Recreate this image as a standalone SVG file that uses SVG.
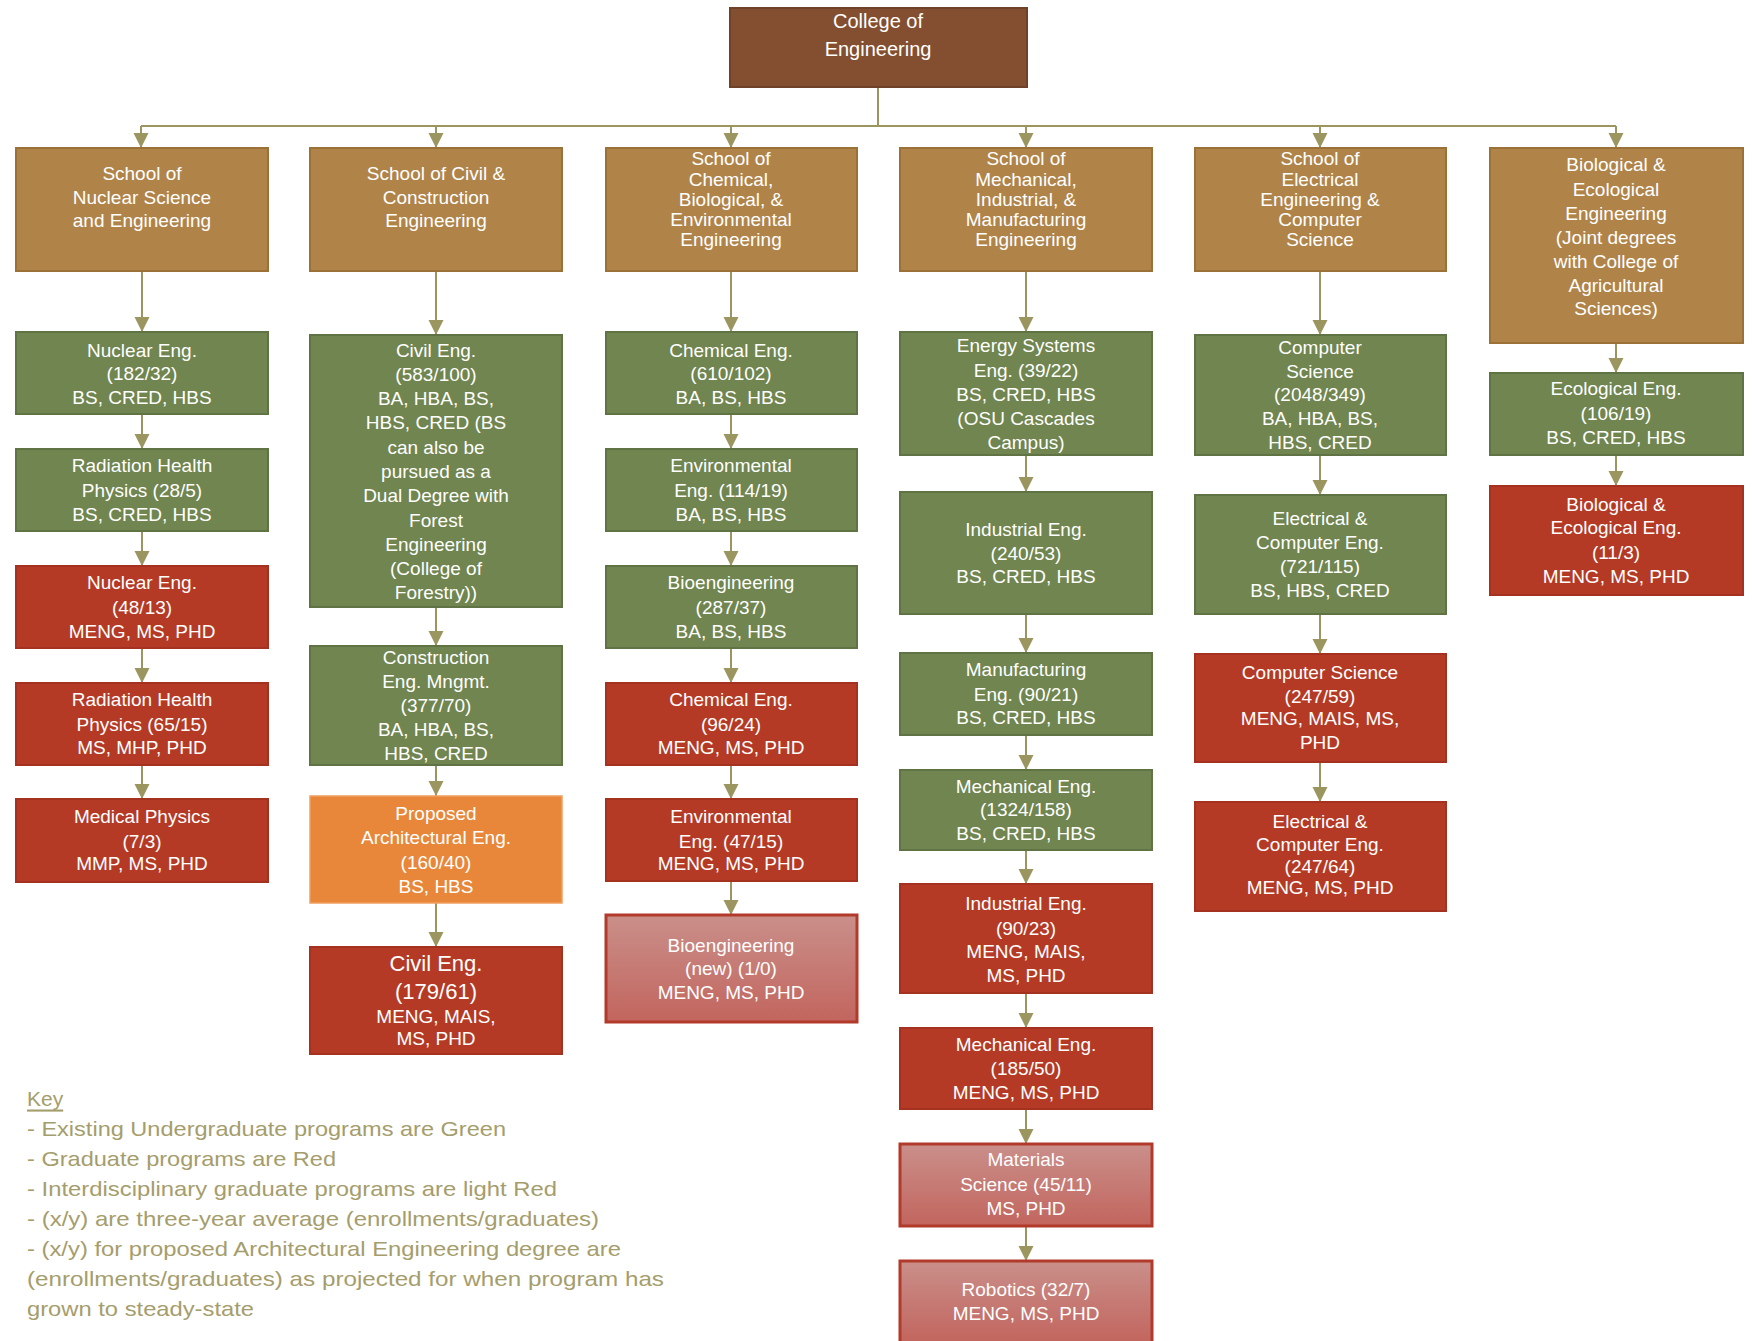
<svg xmlns="http://www.w3.org/2000/svg" width="1755" height="1341" viewBox="0 0 1755 1341">
<defs>
<linearGradient id="lr" x1="0" y1="0" x2="0" y2="1">
<stop offset="0" stop-color="#ca8f8a"/>
<stop offset="1" stop-color="#c2655e"/>
</linearGradient>
<marker id="ah" markerUnits="userSpaceOnUse" markerWidth="17" markerHeight="16" refX="15" refY="7.5" orient="auto">
<path d="M0,0 L15,7.5 L0,15 Z" fill="#9b9660"/>
</marker>
</defs>
<style>
.t{font-family:"Liberation Sans",Arial,sans-serif;font-size:19px;fill:#ffffff;text-anchor:middle;dominant-baseline:central}
.big{font-size:22px}
.ct{font-size:20px}
.col{fill:#834f30;stroke:#6e4128;stroke-width:2}
.sch{fill:#b08449;stroke:#9c7137;stroke-width:2}
.grn{fill:#70854f;stroke:#5f7345;stroke-width:2}
.red{fill:#b53a25;stroke:#a53120;stroke-width:2}
.lred{fill:url(#lr);stroke:#b13a2b;stroke-width:3}
.org{fill:#e8873a;stroke:#f0a060;stroke-width:1.5}
.c{fill:none;stroke:#9b9660;stroke-width:2}
.a{marker-end:url(#ah)}
.k{font-family:"Liberation Sans",Arial,sans-serif;font-size:21px;fill:#a59d6c;dominant-baseline:central}
</style>
<rect width="1755" height="1341" fill="#ffffff"/>

<g id="connectors">
<path class="c" d="M878,87 V126 M141,126 H1616"/>
<path class="c a" d="M141,126 V148"/>
<path class="c a" d="M436,126 V148"/>
<path class="c a" d="M731,126 V148"/>
<path class="c a" d="M1026,126 V148"/>
<path class="c a" d="M1320,126 V148"/>
<path class="c a" d="M1616,126 V148"/>
<path class="c a" d="M142,271 V332"/>
<path class="c a" d="M142,414 V449"/>
<path class="c a" d="M142,531 V566"/>
<path class="c a" d="M142,648 V683"/>
<path class="c a" d="M142,765 V799"/>
<path class="c a" d="M436,271 V335"/>
<path class="c a" d="M436,607 V646"/>
<path class="c a" d="M436,765 V796"/>
<path class="c a" d="M436,903 V947"/>
<path class="c a" d="M731,271 V332"/>
<path class="c a" d="M731,414 V449"/>
<path class="c a" d="M731,531 V566"/>
<path class="c a" d="M731,648 V683"/>
<path class="c a" d="M731,765 V799"/>
<path class="c a" d="M731,881 V915"/>
<path class="c a" d="M1026,271 V332"/>
<path class="c a" d="M1026,455 V492"/>
<path class="c a" d="M1026,614 V653"/>
<path class="c a" d="M1026,735 V770"/>
<path class="c a" d="M1026,850 V884"/>
<path class="c a" d="M1026,993 V1028"/>
<path class="c a" d="M1026,1109 V1144"/>
<path class="c a" d="M1026,1226 V1261"/>
<path class="c a" d="M1320,271 V335"/>
<path class="c a" d="M1320,455 V495"/>
<path class="c a" d="M1320,614 V654"/>
<path class="c a" d="M1320,762 V802"/>
<path class="c a" d="M1616,343 V373"/>
<path class="c a" d="M1616,455 V486"/>
</g>

<g id="college">
<rect class="col" x="730" y="8" width="297" height="79"/>
<text class="t ct" x="878" y="21">College of</text>
<text class="t ct" x="878" y="49">Engineering</text>
</g>

<g id="school-nuclear">
<rect class="sch" x="16" y="148" width="252" height="123"/>
<text class="t" x="142" y="173">School of</text>
<text class="t" x="142" y="197">Nuclear Science</text>
<text class="t" x="142" y="220">and Engineering</text>
</g>
<g id="school-civil">
<rect class="sch" x="310" y="148" width="252" height="123"/>
<text class="t" x="436" y="173">School of Civil &amp;</text>
<text class="t" x="436" y="197">Construction</text>
<text class="t" x="436" y="220">Engineering</text>
</g>
<g id="school-chem">
<rect class="sch" x="606" y="148" width="251" height="123"/>
<text class="t" x="731" y="158">School of</text>
<text class="t" x="731" y="179">Chemical,</text>
<text class="t" x="731" y="199">Biological, &amp;</text>
<text class="t" x="731" y="219">Environmental</text>
<text class="t" x="731" y="239">Engineering</text>
</g>
<g id="school-mech">
<rect class="sch" x="900" y="148" width="252" height="123"/>
<text class="t" x="1026" y="158">School of</text>
<text class="t" x="1026" y="179">Mechanical,</text>
<text class="t" x="1026" y="199">Industrial, &amp;</text>
<text class="t" x="1026" y="219">Manufacturing</text>
<text class="t" x="1026" y="239">Engineering</text>
</g>
<g id="school-eecs">
<rect class="sch" x="1195" y="148" width="251" height="123"/>
<text class="t" x="1320" y="158">School of</text>
<text class="t" x="1320" y="179">Electrical</text>
<text class="t" x="1320" y="199">Engineering &amp;</text>
<text class="t" x="1320" y="219">Computer</text>
<text class="t" x="1320" y="239">Science</text>
</g>
<g id="school-bee">
<rect class="sch" x="1490" y="148" width="253" height="195"/>
<text class="t" x="1616" y="164">Biological &amp;</text>
<text class="t" x="1616" y="189">Ecological</text>
<text class="t" x="1616" y="213">Engineering</text>
<text class="t" x="1616" y="237">(Joint degrees</text>
<text class="t" x="1616" y="261">with College of</text>
<text class="t" x="1616" y="285">Agricultural</text>
<text class="t" x="1616" y="308">Sciences)</text>
</g>

<g id="nuclear-ug">
<rect class="grn" x="16" y="332" width="252" height="82"/>
<text class="t" x="142" y="350">Nuclear Eng.</text>
<text class="t" x="142" y="373">(182/32)</text>
<text class="t" x="142" y="397">BS, CRED, HBS</text>
</g>
<g id="radhealth-ug">
<rect class="grn" x="16" y="449" width="252" height="82"/>
<text class="t" x="142" y="465">Radiation Health</text>
<text class="t" x="142" y="490">Physics (28/5)</text>
<text class="t" x="142" y="514">BS, CRED, HBS</text>
</g>
<g id="nuclear-grad">
<rect class="red" x="16" y="566" width="252" height="82"/>
<text class="t" x="142" y="582">Nuclear Eng.</text>
<text class="t" x="142" y="607">(48/13)</text>
<text class="t" x="142" y="631">MENG, MS, PHD</text>
</g>
<g id="radhealth-grad">
<rect class="red" x="16" y="683" width="252" height="82"/>
<text class="t" x="142" y="699">Radiation Health</text>
<text class="t" x="142" y="724">Physics (65/15)</text>
<text class="t" x="142" y="747">MS, MHP, PHD</text>
</g>
<g id="medphys-grad">
<rect class="red" x="16" y="799" width="252" height="83"/>
<text class="t" x="142" y="816">Medical Physics</text>
<text class="t" x="142" y="841">(7/3)</text>
<text class="t" x="142" y="863">MMP, MS, PHD</text>
</g>

<g id="civil-ug">
<rect class="grn" x="310" y="335" width="252" height="272"/>
<text class="t" x="436" y="350">Civil Eng.</text>
<text class="t" x="436" y="374">(583/100)</text>
<text class="t" x="436" y="398">BA, HBA, BS,</text>
<text class="t" x="436" y="422">HBS, CRED (BS</text>
<text class="t" x="436" y="447">can also be</text>
<text class="t" x="436" y="471">pursued as a</text>
<text class="t" x="436" y="495">Dual Degree with</text>
<text class="t" x="436" y="520">Forest</text>
<text class="t" x="436" y="544">Engineering</text>
<text class="t" x="436" y="568">(College of</text>
<text class="t" x="436" y="592">Forestry))</text>
</g>
<g id="construction-ug">
<rect class="grn" x="310" y="646" width="252" height="119"/>
<text class="t" x="436" y="657">Construction</text>
<text class="t" x="436" y="681">Eng. Mngmt.</text>
<text class="t" x="436" y="705">(377/70)</text>
<text class="t" x="436" y="729">BA, HBA, BS,</text>
<text class="t" x="436" y="753">HBS, CRED</text>
</g>
<g id="archeng-proposed">
<rect class="org" x="310" y="796" width="252" height="107"/>
<text class="t" x="436" y="813">Proposed</text>
<text class="t" x="436" y="837">Architectural Eng.</text>
<text class="t" x="436" y="862">(160/40)</text>
<text class="t" x="436" y="886">BS, HBS</text>
</g>
<g id="civil-grad">
<rect class="red" x="310" y="947" width="252" height="107"/>
<text class="t big" x="436" y="963">Civil Eng.</text>
<text class="t big" x="436" y="991">(179/61)</text>
<text class="t" x="436" y="1016">MENG, MAIS,</text>
<text class="t" x="436" y="1038">MS, PHD</text>
</g>

<g id="chem-ug">
<rect class="grn" x="606" y="332" width="251" height="82"/>
<text class="t" x="731" y="350">Chemical Eng.</text>
<text class="t" x="731" y="373">(610/102)</text>
<text class="t" x="731" y="397">BA, BS, HBS</text>
</g>
<g id="env-ug">
<rect class="grn" x="606" y="449" width="251" height="82"/>
<text class="t" x="731" y="465">Environmental</text>
<text class="t" x="731" y="490">Eng. (114/19)</text>
<text class="t" x="731" y="514">BA, BS, HBS</text>
</g>
<g id="bio-ug">
<rect class="grn" x="606" y="566" width="251" height="82"/>
<text class="t" x="731" y="582">Bioengineering</text>
<text class="t" x="731" y="607">(287/37)</text>
<text class="t" x="731" y="631">BA, BS, HBS</text>
</g>
<g id="chem-grad">
<rect class="red" x="606" y="683" width="251" height="82"/>
<text class="t" x="731" y="699">Chemical Eng.</text>
<text class="t" x="731" y="724">(96/24)</text>
<text class="t" x="731" y="747">MENG, MS, PHD</text>
</g>
<g id="env-grad">
<rect class="red" x="606" y="799" width="251" height="82"/>
<text class="t" x="731" y="816">Environmental</text>
<text class="t" x="731" y="841">Eng. (47/15)</text>
<text class="t" x="731" y="863">MENG, MS, PHD</text>
</g>
<g id="bio-grad">
<rect class="lred" x="606" y="915" width="251" height="107"/>
<text class="t" x="731" y="945">Bioengineering</text>
<text class="t" x="731" y="968">(new) (1/0)</text>
<text class="t" x="731" y="992">MENG, MS, PHD</text>
</g>

<g id="energy-ug">
<rect class="grn" x="900" y="332" width="252" height="123"/>
<text class="t" x="1026" y="345">Energy Systems</text>
<text class="t" x="1026" y="370">Eng. (39/22)</text>
<text class="t" x="1026" y="394">BS, CRED, HBS</text>
<text class="t" x="1026" y="418">(OSU Cascades</text>
<text class="t" x="1026" y="442">Campus)</text>
</g>
<g id="industrial-ug">
<rect class="grn" x="900" y="492" width="252" height="122"/>
<text class="t" x="1026" y="529">Industrial Eng.</text>
<text class="t" x="1026" y="553">(240/53)</text>
<text class="t" x="1026" y="576">BS, CRED, HBS</text>
</g>
<g id="manufacturing-ug">
<rect class="grn" x="900" y="653" width="252" height="82"/>
<text class="t" x="1026" y="669">Manufacturing</text>
<text class="t" x="1026" y="694">Eng. (90/21)</text>
<text class="t" x="1026" y="717">BS, CRED, HBS</text>
</g>
<g id="mechanical-ug">
<rect class="grn" x="900" y="770" width="252" height="80"/>
<text class="t" x="1026" y="786">Mechanical Eng.</text>
<text class="t" x="1026" y="809">(1324/158)</text>
<text class="t" x="1026" y="833">BS, CRED, HBS</text>
</g>
<g id="industrial-grad">
<rect class="red" x="900" y="884" width="252" height="109"/>
<text class="t" x="1026" y="903">Industrial Eng.</text>
<text class="t" x="1026" y="928">(90/23)</text>
<text class="t" x="1026" y="951">MENG, MAIS,</text>
<text class="t" x="1026" y="975">MS, PHD</text>
</g>
<g id="mechanical-grad">
<rect class="red" x="900" y="1028" width="252" height="81"/>
<text class="t" x="1026" y="1044">Mechanical Eng.</text>
<text class="t" x="1026" y="1068">(185/50)</text>
<text class="t" x="1026" y="1092">MENG, MS, PHD</text>
</g>
<g id="materials-grad">
<rect class="lred" x="900" y="1144" width="252" height="82"/>
<text class="t" x="1026" y="1159">Materials</text>
<text class="t" x="1026" y="1184">Science (45/11)</text>
<text class="t" x="1026" y="1208">MS, PHD</text>
</g>
<g id="robotics-grad">
<rect class="lred" x="900" y="1261" width="252" height="82"/>
<text class="t" x="1026" y="1289">Robotics (32/7)</text>
<text class="t" x="1026" y="1313">MENG, MS, PHD</text>
</g>

<g id="cs-ug">
<rect class="grn" x="1195" y="335" width="251" height="120"/>
<text class="t" x="1320" y="347">Computer</text>
<text class="t" x="1320" y="371">Science</text>
<text class="t" x="1320" y="394">(2048/349)</text>
<text class="t" x="1320" y="418">BA, HBA, BS,</text>
<text class="t" x="1320" y="442">HBS, CRED</text>
</g>
<g id="ece-ug">
<rect class="grn" x="1195" y="495" width="251" height="119"/>
<text class="t" x="1320" y="518">Electrical &amp;</text>
<text class="t" x="1320" y="542">Computer Eng.</text>
<text class="t" x="1320" y="566">(721/115)</text>
<text class="t" x="1320" y="590">BS, HBS, CRED</text>
</g>
<g id="cs-grad">
<rect class="red" x="1195" y="654" width="251" height="108"/>
<text class="t" x="1320" y="672">Computer Science</text>
<text class="t" x="1320" y="696">(247/59)</text>
<text class="t" x="1320" y="718">MENG, MAIS, MS,</text>
<text class="t" x="1320" y="742">PHD</text>
</g>
<g id="ece-grad">
<rect class="red" x="1195" y="802" width="251" height="109"/>
<text class="t" x="1320" y="821">Electrical &amp;</text>
<text class="t" x="1320" y="844">Computer Eng.</text>
<text class="t" x="1320" y="866">(247/64)</text>
<text class="t" x="1320" y="887">MENG, MS, PHD</text>
</g>

<g id="eco-ug">
<rect class="grn" x="1490" y="373" width="253" height="82"/>
<text class="t" x="1616" y="388">Ecological Eng.</text>
<text class="t" x="1616" y="413">(106/19)</text>
<text class="t" x="1616" y="437">BS, CRED, HBS</text>
</g>
<g id="bee-grad">
<rect class="red" x="1490" y="486" width="253" height="109"/>
<text class="t" x="1616" y="504">Biological &amp;</text>
<text class="t" x="1616" y="527">Ecological Eng.</text>
<text class="t" x="1616" y="552">(11/3)</text>
<text class="t" x="1616" y="576">MENG, MS, PHD</text>
</g>

<g id="key">
<text class="k" x="27" y="1098" text-decoration="underline">Key</text>
<text class="k" x="27" y="1128" textLength="479" lengthAdjust="spacingAndGlyphs">- Existing Undergraduate programs are Green</text>
<text class="k" x="27" y="1158" textLength="309" lengthAdjust="spacingAndGlyphs">- Graduate programs are Red</text>
<text class="k" x="27" y="1188" textLength="530" lengthAdjust="spacingAndGlyphs">- Interdisciplinary graduate programs are light Red</text>
<text class="k" x="27" y="1218" textLength="572" lengthAdjust="spacingAndGlyphs">- (x/y) are three-year average (enrollments/graduates)</text>
<text class="k" x="27" y="1248" textLength="594" lengthAdjust="spacingAndGlyphs">- (x/y) for proposed Architectural Engineering degree are</text>
<text class="k" x="27" y="1278" textLength="637" lengthAdjust="spacingAndGlyphs">(enrollments/graduates) as projected for when program has</text>
<text class="k" x="27" y="1308" textLength="227" lengthAdjust="spacingAndGlyphs">grown to steady-state</text>
</g>
</svg>
